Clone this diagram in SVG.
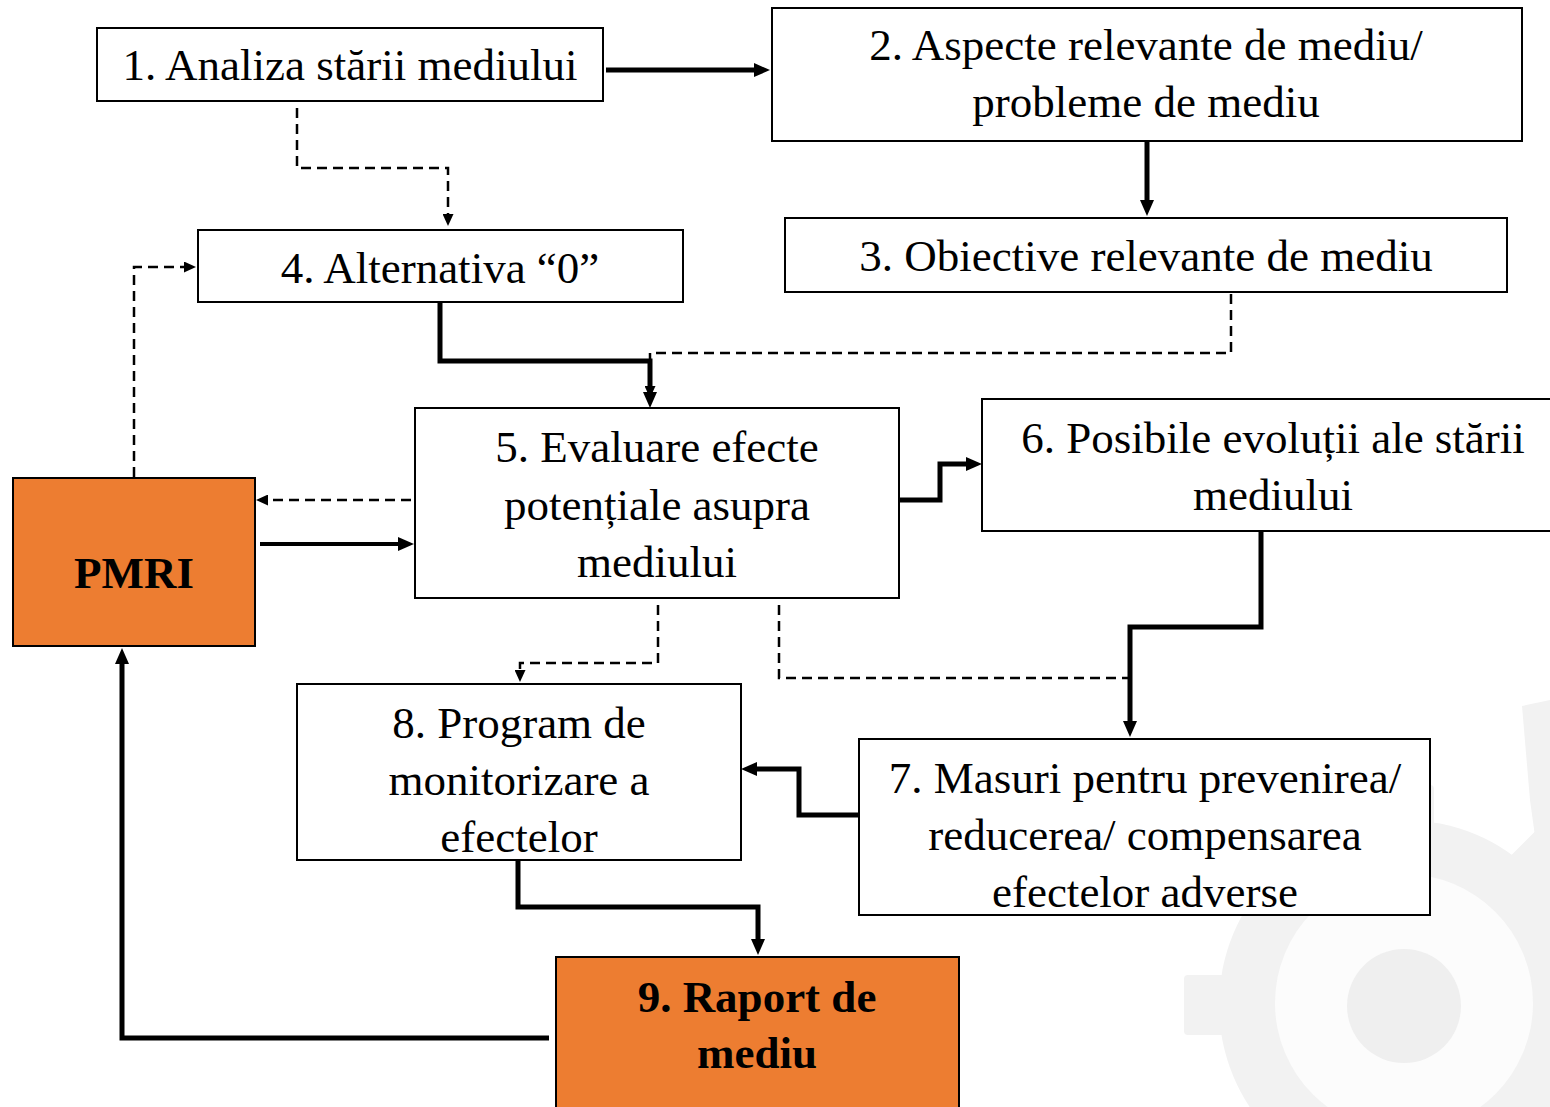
<svg xmlns="http://www.w3.org/2000/svg" width="1550" height="1107" viewBox="0 0 1550 1107">
  <style>
    .box { fill: #ffffff; stroke: #000000; stroke-width: 2; }
    .obox { fill: #ED7D31; stroke: #000000; stroke-width: 2; }
    .t { font-family: "Liberation Serif", "Times New Roman", serif; font-size: 45px; fill: #000000; text-anchor: middle; }
    .tb { font-family: "Liberation Serif", "Times New Roman", serif; font-size: 45px; font-weight: bold; fill: #000000; text-anchor: middle; }
    .solid { fill: none; stroke: #000000; stroke-width: 5; stroke-linejoin: miter; }
    .solid4 { fill: none; stroke: #000000; stroke-width: 4; }
    .dash { fill: none; stroke: #000000; stroke-width: 2.5; stroke-dasharray: 10 6; }
    .gear { fill: #f2f2f2; }
  </style>
  <defs>
    <marker id="ah" markerUnits="userSpaceOnUse" markerWidth="16" markerHeight="14" refX="0" refY="7" orient="auto">
      <path d="M0,0 L16,7 L0,14 z" fill="#000000"/>
    </marker>
    <marker id="ahs" markerUnits="userSpaceOnUse" markerWidth="12" markerHeight="11" refX="0" refY="5.5" orient="auto">
      <path d="M0,0 L12,5.5 L0,11 z" fill="#000000"/>
    </marker>
  </defs>
  <rect x="0" y="0" width="1550" height="1107" fill="#ffffff"/>

  <g id="watermark">
    <g class="gear" transform="translate(1404,1005)">
      <circle cx="0" cy="0" r="185"/>
      <rect x="-30" y="-220" width="60" height="60" rx="4" transform="rotate(0)"/>
      <rect x="-30" y="-220" width="60" height="60" rx="4" transform="rotate(45)"/>
      <rect x="-30" y="-220" width="60" height="60" rx="4" transform="rotate(90)"/>
      <rect x="-30" y="-220" width="60" height="60" rx="4" transform="rotate(135)"/>
      <rect x="-30" y="-220" width="60" height="60" rx="4" transform="rotate(180)"/>
      <rect x="-30" y="-220" width="60" height="60" rx="4" transform="rotate(225)"/>
      <rect x="-30" y="-220" width="60" height="60" rx="4" transform="rotate(270)"/>
      <rect x="-30" y="-220" width="60" height="60" rx="4" transform="rotate(315)"/>
    </g>
    <circle cx="1404" cy="1003" r="129" fill="#fcfcfc"/>
    <circle cx="1404" cy="1006" r="57" fill="#efefef"/>
    <polygon points="1522,706 1550,700 1550,880 1538,858 1530,800" fill="#f2f2f2"/>
  </g>

  <g id="connectors">
    <path class="solid" d="M606,70 H754" marker-end="url(#ah)"/>
    <path class="solid" d="M1147,142 V200" marker-end="url(#ah)"/>
    <path class="dash" d="M297,108 V168 H448 V214" marker-end="url(#ahs)"/>
    <path class="dash" d="M1231,294 V353 H650 V386" marker-end="url(#ahs)"/>
    <path class="solid" d="M440,302 V361 H650 V392" marker-end="url(#ah)"/>
    <path class="dash" d="M134,477 V267 H184" marker-end="url(#ahs)"/>
    <path class="dash" d="M411,500 H268" marker-end="url(#ahs)"/>
    <path class="solid4" d="M260,544 H398" marker-end="url(#ah)"/>
    <path class="solid" d="M899,500 H940 V464 H966" marker-end="url(#ah)"/>
    <path class="solid" d="M1261,531 V627 H1130 V721" marker-end="url(#ah)"/>
    <path class="dash" d="M658,605 V663 H520 V670" marker-end="url(#ahs)"/>
    <path class="dash" d="M779,605 V678 H1128"/>
    <path class="solid" d="M858,815 H799 V769 H757" marker-end="url(#ah)"/>
    <path class="solid" d="M518,858 V907 H758 V939" marker-end="url(#ah)"/>
    <path class="solid" d="M549,1038 H122 V664" marker-end="url(#ah)"/>
  </g>

  <g id="node1">
    <rect class="box" x="97" y="28" width="506" height="73"/>
    <text class="t" x="350" y="80">1. Analiza stării mediului</text>
  </g>
  <g id="node2">
    <rect class="box" x="772" y="8" width="750" height="133"/>
    <text class="t" x="1146" y="60">2. Aspecte relevante de mediu/</text>
    <text class="t" x="1146" y="117">probleme de mediu</text>
  </g>
  <g id="node3">
    <rect class="box" x="785" y="218" width="722" height="74"/>
    <text class="t" x="1146" y="271">3. Obiective relevante de mediu</text>
  </g>
  <g id="node4">
    <rect class="box" x="198" y="230" width="485" height="72"/>
    <text class="t" x="440" y="283">4. Alternativa “0”</text>
  </g>
  <g id="node5">
    <rect class="box" x="415" y="408" width="484" height="190"/>
    <text class="t" x="657" y="462">5. Evaluare efecte</text>
    <text class="t" x="657" y="520">potențiale asupra</text>
    <text class="t" x="657" y="577">mediului</text>
  </g>
  <g id="node6">
    <rect class="box" x="982" y="399" width="580" height="132"/>
    <text class="t" x="1273" y="453">6. Posibile evoluții ale stării</text>
    <text class="t" x="1273" y="510">mediului</text>
  </g>
  <g id="pmri">
    <rect class="obox" x="13" y="478" width="242" height="168"/>
    <text class="tb" x="134" y="588">PMRI</text>
  </g>
  <g id="node7">
    <rect class="box" x="859" y="739" width="571" height="176"/>
    <text class="t" x="1145" y="793">7. Masuri pentru prevenirea/</text>
    <text class="t" x="1145" y="850">reducerea/ compensarea</text>
    <text class="t" x="1145" y="907">efectelor adverse</text>
  </g>
  <g id="node8">
    <rect class="box" x="297" y="684" width="444" height="176"/>
    <text class="t" x="519" y="738">8. Program de</text>
    <text class="t" x="519" y="795">monitorizare a</text>
    <text class="t" x="519" y="852">efectelor</text>
  </g>
  <g id="node9">
    <rect class="obox" x="556" y="957" width="403" height="160"/>
    <text class="tb" x="757" y="1012">9. Raport de</text>
    <text class="tb" x="757" y="1068">mediu</text>
  </g>
</svg>
